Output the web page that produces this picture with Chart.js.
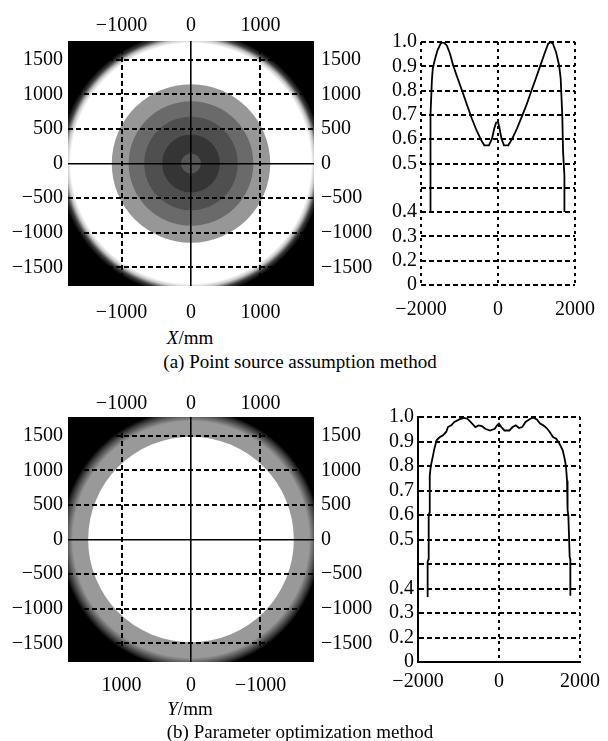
<!DOCTYPE html>
<html>
<head>
<meta charset="utf-8">
<script src="https://cdn.jsdelivr.net/npm/chart.js@4.4.1/dist/chart.umd.min.js"></script>
<style>
  html, body { margin: 0; padding: 0; background: #fff; }
  #page { position: relative; width: 608px; height: 741px; overflow: hidden;
          font-family: "Liberation Serif", "Times New Roman", serif; font-size: 19px; color: #000; }
  .box { position: absolute; }
  .txt { position: absolute; white-space: nowrap; line-height: 1; transform: translate(-50%, -50%); }
</style>
</head>
<body>
<div id="page">
  <div class="box" style="left:0;top:0;width:385px;height:325px"><canvas id="map-a" width="385" height="325"></canvas></div>
  <div class="box" style="left:370px;top:0;width:238px;height:325px"><canvas id="profile-a" width="238" height="325"></canvas></div>
  <div class="box" style="left:0;top:376px;width:385px;height:325px"><canvas id="map-b" width="385" height="325"></canvas></div>
  <div class="box" style="left:370px;top:376px;width:238px;height:325px"><canvas id="profile-b" width="238" height="325"></canvas></div>

  <div class="txt" style="left:190px;top:337px"><i>X</i>/mm</div>
  <div class="txt" style="left:300px;top:361px">(a) Point source assumption method</div>
  <div class="txt" style="left:190px;top:708px"><i>Y</i>/mm</div>
  <div class="txt" style="left:300px;top:731px">(b) Parameter optimization method</div>
</div>

<script>
// --- Data ---
const mapXTicks = [-1000, 0, 1000];
const mapYTicks = [-1500, -1000, -500, 0, 500, 1000, 1500];
const mapMin = -1770;
const mapMax = 1770;

// (a) grey discs, outermost first (radius in mm)
const discRadiiA = [1140, 897, 673, 416, 144];
const discGreysA = ['#979797', '#6a6a6a', '#4f4f4f', '#353535', '#565656'];
const edgeRadiiA = [1730, 1900];      // white fades to black between these
const edgeStartA = '#ffffff';

// (b)
const discRadiiB = [1480];
const discGreysB = ['#ffffff'];
const edgeRadiiB = [1700, 1870];      // grey fades to black between these
const edgeStartB = '#999999';

const profileXTicks = [-2000, 0, 2000];
const profileYTicks = [0, 0.1, 0.2, 0.3, 0.4, 0.5, 0.6, 0.7, 0.8, 0.9, 1.0];
const profileYLabels = ['0', '0.2', '0.3', '0.4', '', '0.5', '0.6', '0.7', '0.8', '0.9', '1.0'];

const profileAX = [-1765, -1765, -1750, -1745, -1718, -1694, -1653, -1572, -1490, -1426,
                   -1329, -1247, -1166, -1045, -923, -802, -680, -559, -437, -356,
                   -235, -154, -97, -49, 0, 32, 89, 154, 267, 373,
                   494, 616, 737, 859, 980, 1102, 1223, 1304, 1369, 1426,
                   1507, 1588, 1628, 1669, 1690, 1725, 1725];
const profileAY = [0.30, 0.45, 0.56, 0.70, 0.84, 0.89, 0.92, 0.966, 0.993, 1.0,
                   0.986, 0.952, 0.904, 0.849, 0.795, 0.74, 0.685, 0.637, 0.596, 0.575,
                   0.575, 0.603, 0.644, 0.668, 0.671, 0.651, 0.603, 0.575, 0.575, 0.603,
                   0.644, 0.692, 0.74, 0.795, 0.849, 0.904, 0.959, 0.993, 1.0, 0.993,
                   0.959, 0.904, 0.85, 0.70, 0.55, 0.45, 0.30];

const profileBX = [-1762, -1762, -1740, -1736, -1716, -1710, -1684, -1645, -1597, -1541,
                   -1461, -1381, -1301, -1261, -1181, -1102, -982, -862, -782, -702,
                   -583, -503, -423, -343, -223, -104, -48, 0, 56, 136,
                   256, 335, 415, 495, 575, 655, 774, 854, 934, 1014,
                   1094, 1174, 1253, 1333, 1413, 1493, 1573, 1613, 1653, 1680,
                   1693, 1712, 1745, 1760, 1762];
const profileBY = [0.265, 0.41, 0.42, 0.60, 0.61, 0.76, 0.80, 0.83, 0.87, 0.905,
                   0.918, 0.925, 0.94, 0.959, 0.966, 0.98, 0.99, 0.996, 0.993, 0.98,
                   0.959, 0.966, 0.963, 0.952, 0.945, 0.952, 0.966, 0.973, 0.959, 0.945,
                   0.945, 0.959, 0.966, 0.955, 0.959, 0.98, 0.993, 0.997, 0.99, 0.973,
                   0.966, 0.955, 0.939, 0.918, 0.911, 0.891, 0.864, 0.836, 0.80, 0.74,
                   0.62, 0.60, 0.43, 0.42, 0.27];

// --- Helpers ---
const serif = { family: 'Liberation Serif', size: 20 };
const fmt = (v) => (v < 0 ? '\u2212' + Math.abs(v) : String(v));
const fixTicks = (values) => (scale) => { scale.ticks = values.map(v => ({ value: v })); };

// black plot background behind the discs
const blackArea = {
    id: 'blackArea',
    beforeDatasetsDraw(chart) {
        const { ctx, chartArea: a } = chart;
        ctx.save();
        ctx.fillStyle = '#000';
        ctx.fillRect(a.left, a.top, a.right - a.left, a.bottom - a.top);
        ctx.restore();
    }
};

function pxRadius(chart, r) {
    const x = chart.scales.x;
    return Math.abs(x.getPixelForValue(r) - x.getPixelForValue(0));
}

function makeMap(id, discRadii, discGreys, edgeRadii, edgeStart, opts) {
    const fade = (c) => {
        const chart = c.chart;
        if (!chart.chartArea) return edgeStart;
        const cx = chart.scales.x.getPixelForValue(0);
        const cy = chart.scales.y.getPixelForValue(0);
        const g = chart.ctx.createRadialGradient(cx, cy, pxRadius(chart, edgeRadii[0]),
                                                 cx, cy, pxRadius(chart, edgeRadii[1]));
        g.addColorStop(0, edgeStart);
        g.addColorStop(0.3, opts.fadeMid);
        g.addColorStop(0.65, '#3a3a3a');
        g.addColorStop(1, '#000000');
        return g;
    };

    const discs = [{ r: edgeRadii[1], color: fade }]
        .concat(discRadii.map((r, i) => ({ r: r, color: discGreys[i] })));

    const datasets = discs.map((d, i) => ({
        data: [{ x: 0, y: 0 }],
        pointRadius: (c) => pxRadius(c.chart, d.r),
        pointBackgroundColor: d.color,
        pointBorderWidth: 0,
        order: discs.length - i,
        clip: 0
    }));

    const gridDash = (c) => (c.tick && c.tick.value === 0 ? [] : [5, 3]);
    const gridWidth = (c) => (c.tick && c.tick.value === 0 ? 1.6 : 2);
    const tickOpts = (pad) => ({ font: serif, color: '#000', padding: pad, callback: fmt,
                                 autoSkip: false, maxRotation: 0 });

    new Chart(document.getElementById(id), {
        type: 'scatter',
        data: { datasets },
        plugins: [blackArea],
        options: {
            responsive: false,
            animation: false,
            events: [],
            layout: { padding: 0 },
            plugins: { legend: { display: false }, tooltip: { enabled: false } },
            scales: {
                x: {
                    type: 'linear', position: 'bottom', min: mapMin, max: mapMax,
                    reverse: opts.reverseBottom,
                    afterBuildTicks: fixTicks(mapXTicks),
                    afterFit: (s) => { s.height = 39; },
                    grid: { color: '#000', lineWidth: gridWidth, drawTicks: false, z: 1 },
                    border: { display: false, dash: gridDash },
                    ticks: tickOpts(opts.bottomPad)
                },
                x2: {
                    type: 'linear', position: 'top', min: mapMin, max: mapMax,
                    afterBuildTicks: fixTicks(mapXTicks),
                    afterFit: (s) => { s.height = 41; },
                    grid: { display: false, drawTicks: false },
                    border: { display: false },
                    ticks: tickOpts(opts.topPad)
                },
                y: {
                    type: 'linear', position: 'left', min: mapMin, max: mapMax,
                    afterBuildTicks: fixTicks(mapYTicks),
                    afterFit: (s) => { s.width = 68; },
                    grid: { color: '#000', lineWidth: gridWidth, drawTicks: false, z: 1 },
                    border: { display: false, dash: gridDash },
                    ticks: tickOpts(5)
                },
                y2: {
                    type: 'linear', position: 'right', min: mapMin, max: mapMax,
                    afterBuildTicks: fixTicks(mapYTicks),
                    afterFit: (s) => { s.width = 71; },
                    grid: { display: false, drawTicks: false },
                    border: { display: false },
                    ticks: tickOpts(7)
                }
            }
        }
    });
}

function makeProfile(id, xs, ys, opts) {
    new Chart(document.getElementById(id), {
        type: 'line',
        data: {
            datasets: [{
                data: xs.map((x, i) => ({ x: x, y: ys[i] })),
                borderColor: '#000',
                borderWidth: 1.8,
                pointRadius: 0,
                tension: 0,
                fill: false
            }]
        },
        options: {
            responsive: false,
            animation: false,
            events: [],
            layout: { padding: { top: opts.top, right: opts.right, left: 0, bottom: 0 } },
            plugins: { legend: { display: false }, tooltip: { enabled: false } },
            scales: {
                x: {
                    type: 'linear', min: -2000, max: 2000,
                    afterBuildTicks: fixTicks(profileXTicks),
                    afterFit: (s) => { s.height = opts.bottom; },
                    grid: { color: '#000', lineWidth: 2, drawTicks: false },
                    border: { display: opts.solidFrame, color: '#000', width: 2, dash: [3, 4] },
                    ticks: { font: serif, color: '#000', padding: opts.xPad, callback: fmt,
                             autoSkip: false, maxRotation: 0 }
                },
                y: {
                    type: 'linear', min: 0, max: 1,
                    afterBuildTicks: fixTicks(profileYTicks),
                    afterFit: (s) => { s.width = opts.left; },
                    grid: { color: '#000', lineWidth: 2, drawTicks: false },
                    border: { display: opts.solidFrame, color: '#000', width: 2, dash: [5, 3] },
                    ticks: { font: serif, color: '#000', padding: 4, autoSkip: false,
                             callback: (v, i) => profileYLabels[i] }
                }
            }
        }
    });
}

// --- Charts ---
makeMap('map-a', discRadiiA, discGreysA, edgeRadiiA, edgeStartA,
        { reverseBottom: false, bottomPad: 15, topPad: 3, fadeMid: '#c8c8c8' });
makeMap('map-b', discRadiiB, discGreysB, edgeRadiiB, edgeStartB,
        { reverseBottom: true, bottomPad: 12, topPad: 1, fadeMid: '#6e6e6e' });
makeProfile('profile-a', profileAX, profileAY,
        { top: 42, right: 22, left: 51, bottom: 40, xPad: 13, solidFrame: false });
makeProfile('profile-b', profileBX, profileBY,
        { top: 41, right: 22, left: 48, bottom: 39, xPad: 8, solidFrame: true });
</script>
</body>
</html>
